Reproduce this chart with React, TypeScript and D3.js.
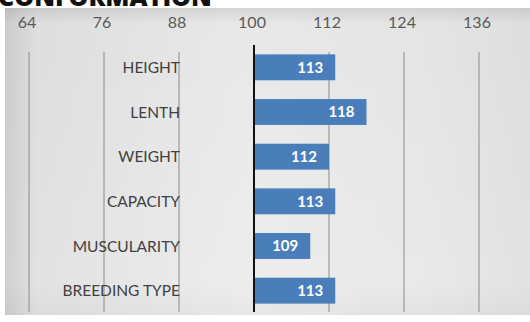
import React from "react";
import * as d3 from "d3";

const title = "CONFORMATION";
const categories = ["HEIGHT", "LENTH", "WEIGHT", "CAPACITY", "MUSCULARITY", "BREEDING TYPE"];
const values = [113, 118, 112, 113, 109, 113];
const tickValues = [64, 76, 88, 100, 112, 124, 136];
const baseline = 100;

const W = 530;
const H = 322;

export default function App() {
  const x = d3.scaleLinear().domain([64, 136]).range([29, 479]);
  const y = d3
    .scaleBand<string>()
    .domain(categories)
    .range([45, 313])
    .paddingInner(0.42)
    .paddingOuter(0.21);
  const font = "Lato, 'Open Sans', sans-serif";

  return (
    <svg
      width={W}
      height={H}
      style={{ position: "absolute", left: 0, top: 0, display: "block" }}
    >
      <defs>
        <linearGradient id="panelH" x1="0" y1="0" x2="1" y2="0">
          <stop offset="0" stopColor="#cfcfcf" />
          <stop offset="0.06" stopColor="#e2e2e2" />
          <stop offset="0.45" stopColor="#ededed" />
          <stop offset="0.8" stopColor="#e9e9e9" />
          <stop offset="1" stopColor="#e2e2e2" />
        </linearGradient>
        <linearGradient id="panelV" x1="0" y1="0" x2="0" y2="1">
          <stop offset="0" stopColor="#000" stopOpacity="0.1" />
          <stop offset="0.05" stopColor="#000" stopOpacity="0.02" />
          <stop offset="0.9" stopColor="#000" stopOpacity="0" />
          <stop offset="1" stopColor="#000" stopOpacity="0.03" />
        </linearGradient>
        <clipPath id="titleClip">
          <rect x={0} y={0} width={W} height={8} />
        </clipPath>
      </defs>
      <rect x={0} y={0} width={W} height={H} fill="#ffffff" />
      <g clipPath="url(#titleClip)">
        <text
          x={-2}
          y={6}
          fontFamily="'Open Sans', sans-serif"
          fontWeight={800}
          fontSize={25}
          fill="#111"
        >
          {title}
        </text>
      </g>
      <rect x={5} y={8} width={W - 5} height={307} fill="url(#panelH)" />
      <rect x={5} y={8} width={W - 5} height={307} fill="url(#panelV)" />

      {/* gridlines */}
      {tickValues.map((t) =>
        t === baseline ? null : (
          <line
            key={"g" + t}
            x1={x(t)}
            x2={x(t)}
            y1={52}
            y2={312}
            stroke="#8a8a8a"
            strokeWidth={1}
          />
        )
      )}

      {/* tick labels */}
      {tickValues.map((t) => (
        <text
          key={"t" + t}
          x={x(t) - 2}
          y={28}
          textAnchor="middle"
          fontFamily={font}
          fontSize={16}
          fill="#595959"
        >
          {t}
        </text>
      ))}

      {/* bars */}
      {categories.map((c, i) => (
        <rect
          key={"b" + c}
          x={x(baseline)}
          y={y(c)!}
          width={x(values[i]) - x(baseline)}
          height={y.bandwidth()}
          fill="#4a7ebb"
        />
      ))}

      {/* value labels */}
      {categories.map((c, i) => (
        <text
          key={"v" + c}
          x={x(values[i]) - 12}
          y={y(c)! + y.bandwidth() / 2}
          dy="0.36em"
          textAnchor="end"
          fontFamily={font}
          fontWeight={700}
          fontSize={15}
          fill="#ffffff"
        >
          {values[i]}
        </text>
      ))}

      {/* category labels */}
      {categories.map((c) => (
        <text
          key={"c" + c}
          x={x(88) + 1}
          y={y(c)! + y.bandwidth() / 2}
          dy="0.36em"
          textAnchor="end"
          fontFamily={font}
          fontSize={15.5}
          fill="#404040"
        >
          {c}
        </text>
      ))}

      {/* baseline axis */}
      <line
        x1={x(baseline)}
        x2={x(baseline)}
        y1={45}
        y2={312}
        stroke="#111"
        strokeWidth={2}
      />
    </svg>
  );
}
